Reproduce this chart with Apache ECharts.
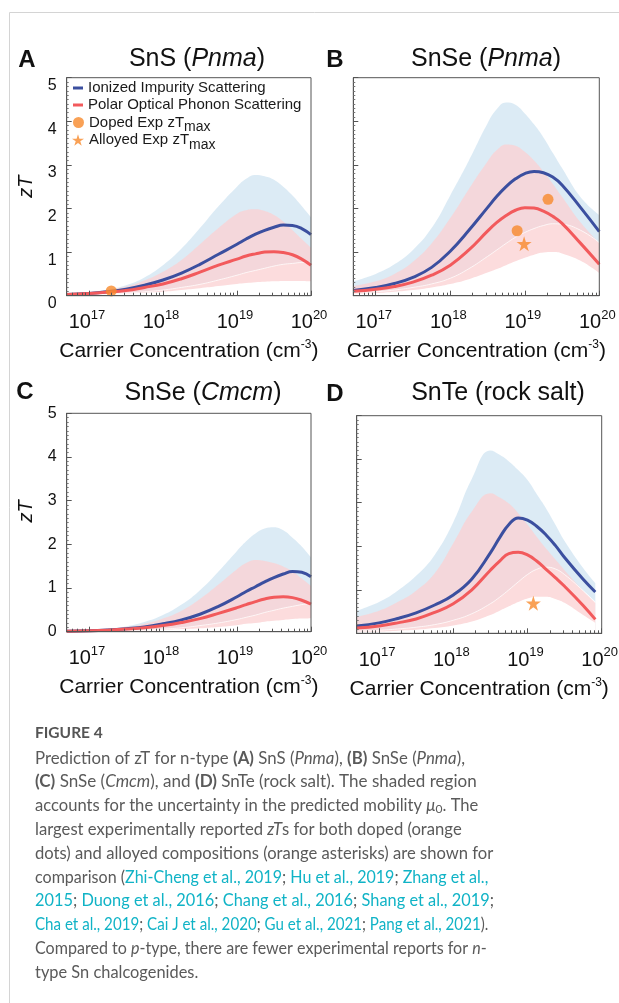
<!DOCTYPE html>
<html>
<head>
<meta charset="utf-8">
<title>Figure 4 - zT of n-type Sn chalcogenides</title>
<script src="https://cdn.jsdelivr.net/npm/echarts@6/dist/echarts.min.js"></script>
<style>
  html, body { margin: 0; padding: 0; background: #fff; }
  #chart { width: 619px; height: 1003px; }
</style>
</head>
<body>
<div id="chart"></div>
<script>
// carrier concentration grids (cm^-3)
const concAC = [5e16, 1e17, 1.78e17, 3.16e17, 5.62e17, 1e18, 1.78e18, 3.16e18, 5.62e18, 1e19, 1.33e19, 1.78e19, 2.37e19, 3.16e19, 4.22e19, 5.62e19, 7.5e19, 1e20]
const concB = [5e16, 1e17, 1.78e17, 3.16e17, 5.62e17, 1e18, 1.78e18, 3.16e18, 4.22e18, 5.62e18, 7.5e18, 1e19, 1.33e19, 1.78e19, 2.37e19, 3.16e19, 5.62e19, 1e20]
const concD = [5e16, 1e17, 1.78e17, 3.16e17, 5.62e17, 1e18, 1.78e18, 3.16e18, 4.22e18, 5.62e18, 7.5e18, 1e19, 1.33e19, 1.78e19, 2.37e19, 3.16e19, 5.62e19, 8.2e19]

// A  SnS (Pnma)
const snsII = [0.03, 0.05, 0.09, 0.15, 0.24, 0.36, 0.52, 0.72, 0.95, 1.18, 1.30, 1.41, 1.50, 1.57, 1.62, 1.61, 1.54, 1.40]
const snsIIHi = [0.05, 0.08, 0.14, 0.24, 0.42, 0.70, 1.08, 1.55, 2.05, 2.50, 2.68, 2.77, 2.74, 2.66, 2.50, 2.30, 2.06, 1.80]
const snsIILo = [0.02, 0.03, 0.04, 0.06, 0.09, 0.13, 0.19, 0.26, 0.36, 0.47, 0.53, 0.58, 0.63, 0.68, 0.72, 0.74, 0.76, 0.76]
const snsPOP = [0.03, 0.05, 0.08, 0.12, 0.19, 0.27, 0.39, 0.54, 0.70, 0.84, 0.91, 0.96, 1.00, 1.01, 0.99, 0.94, 0.84, 0.70]
const snsPOPHi = [0.05, 0.08, 0.13, 0.21, 0.35, 0.55, 0.82, 1.18, 1.55, 1.88, 1.96, 1.98, 1.94, 1.85, 1.70, 1.50, 1.30, 1.10]
const snsPOPLo = [0.02, 0.03, 0.035, 0.05, 0.07, 0.09, 0.13, 0.17, 0.22, 0.27, 0.29, 0.31, 0.32, 0.33, 0.34, 0.34, 0.34, 0.33]
const snsDoped = [[2e17, 0.11]]

// B  SnSe (Pnma)
const snseII = [0.12, 0.19, 0.28, 0.42, 0.65, 1.02, 1.50, 2.02, 2.28, 2.50, 2.68, 2.80, 2.85, 2.82, 2.72, 2.54, 2.02, 1.47]
const snseIIHi = [0.33, 0.50, 0.72, 1.05, 1.55, 2.30, 3.10, 3.95, 4.28, 4.43, 4.38, 4.18, 3.93, 3.63, 3.28, 2.93, 2.26, 1.85]
const snseIILo = [0.06, 0.09, 0.13, 0.19, 0.27, 0.40, 0.62, 0.90, 1.05, 1.20, 1.34, 1.45, 1.54, 1.61, 1.65, 1.64, 1.50, 1.22]
const snsePOP = [0.10, 0.15, 0.21, 0.31, 0.47, 0.70, 1.05, 1.48, 1.68, 1.84, 1.96, 2.02, 2.01, 1.94, 1.82, 1.66, 1.20, 0.72]
const snsePOPHi = [0.22, 0.33, 0.50, 0.78, 1.20, 1.78, 2.45, 3.08, 3.34, 3.47, 3.44, 3.30, 3.10, 2.85, 2.57, 2.27, 1.68, 1.21]
const snsePOPLo = [0.04, 0.06, 0.09, 0.13, 0.19, 0.27, 0.38, 0.53, 0.61, 0.70, 0.79, 0.87, 0.94, 0.99, 1.00, 0.97, 0.80, 0.52]
const snseDoped = [[7.9e18, 1.49], [2.05e19, 2.21]]
const snseAlloyed = [[9.8e18, 1.19]]

// C  SnSe (Cmcm)
const cmcmII = [0.01, 0.02, 0.04, 0.07, 0.11, 0.18, 0.27, 0.40, 0.58, 0.80, 0.92, 1.03, 1.14, 1.24, 1.32, 1.38, 1.36, 1.26]
const cmcmIIHi = [0.02, 0.04, 0.07, 0.12, 0.22, 0.38, 0.62, 0.95, 1.38, 1.85, 2.07, 2.25, 2.36, 2.39, 2.32, 2.15, 1.95, 1.70]
const cmcmIILo = [0.00, 0.01, 0.015, 0.025, 0.04, 0.06, 0.09, 0.14, 0.20, 0.28, 0.33, 0.38, 0.44, 0.49, 0.54, 0.58, 0.62, 0.65]
const cmcmPOP = [0.01, 0.02, 0.035, 0.06, 0.09, 0.14, 0.21, 0.30, 0.42, 0.55, 0.62, 0.69, 0.75, 0.79, 0.80, 0.78, 0.72, 0.63]
const cmcmPOPHi = [0.02, 0.04, 0.06, 0.10, 0.18, 0.30, 0.48, 0.75, 1.08, 1.43, 1.57, 1.64, 1.62, 1.57, 1.49, 1.38, 1.22, 1.05]
const cmcmPOPLo = [0.00, 0.01, 0.012, 0.02, 0.03, 0.04, 0.06, 0.08, 0.11, 0.15, 0.18, 0.20, 0.23, 0.25, 0.27, 0.29, 0.30, 0.31]

// D  SnTe (rock salt)
const snteII = [0.17, 0.24, 0.34, 0.47, 0.65, 0.88, 1.25, 1.85, 2.20, 2.50, 2.65, 2.60, 2.46, 2.26, 2.02, 1.74, 1.24, 0.95]
const snteIIHi = [0.52, 0.72, 0.98, 1.32, 1.80, 2.55, 3.55, 4.20, 4.10, 3.95, 3.75, 3.52, 3.20, 2.87, 2.50, 2.12, 1.50, 1.15]
const snteIILo = [0.05, 0.07, 0.10, 0.14, 0.20, 0.30, 0.45, 0.68, 0.83, 1.00, 1.18, 1.35, 1.47, 1.52, 1.48, 1.35, 0.98, 0.72]
const sntePOP = [0.12, 0.17, 0.24, 0.33, 0.48, 0.68, 1.00, 1.45, 1.66, 1.83, 1.86, 1.80, 1.66, 1.47, 1.28, 1.08, 0.64, 0.32]
const sntePOPHi = [0.38, 0.52, 0.72, 0.98, 1.38, 2.07, 2.80, 3.22, 3.12, 2.98, 2.76, 2.50, 2.22, 1.95, 1.70, 1.45, 0.98, 0.70]
const sntePOPLo = [0.03, 0.04, 0.06, 0.08, 0.12, 0.18, 0.27, 0.42, 0.52, 0.62, 0.72, 0.80, 0.84, 0.84, 0.79, 0.70, 0.42, 0.24]
const snteAlloyed = [[1.2e19, 0.69]]

// axis ticks
const xTickValues = [1e17, 1e18, 1e19, 1e20]
const xTickExp = ['17', '18', '19', '20']
const yTickValues = [0, 1, 2, 3, 4, 5]

const blueLine = '#3b4f9f'
const redLine = '#f25a5c'
const orange = '#f7892c'
const blueBand = 'rgba(214,232,243,0.85)'
const pinkBand = 'rgba(251,209,210,0.76)'
const font = 'Liberation Sans'
const starPath = 'path://M50,0 L61.2,34.5 L97.6,34.5 L68.2,55.9 L79.4,90.5 L50,69.1 L20.6,90.5 L31.8,55.9 L2.4,34.5 L38.8,34.5 Z'

const panels = [
  { letter: 'A', title: 'SnS ({i|Pnma})', titlePos: [197, 59], letterPos: [27, 60],
    grid: { left: 66.7, top: 77.7, width: 244.3, height: 218 },
    x: concAC, ii: snsII, iiHi: snsIIHi, iiLo: snsIILo, pop: snsPOP, popHi: snsPOPHi, popLo: snsPOPLo,
    doped: snsDoped, alloyed: null, yLabels: true, labelAlign: 'top', namePad: 0 },
  { letter: 'B', title: 'SnSe ({i|Pnma})', titlePos: [486, 59], letterPos: [335, 60],
    grid: { left: 353.3, top: 77.7, width: 246, height: 218 },
    x: concB, ii: snseII, iiHi: snseIIHi, iiLo: snseIILo, pop: snsePOP, popHi: snsePOPHi, popLo: snsePOPLo,
    doped: snseDoped, alloyed: snseAlloyed, yLabels: false },
  { letter: 'C', title: 'SnSe ({i|Cmcm})', titlePos: [203, 393], letterPos: [25, 392],
    grid: { left: 66.7, top: 413.3, width: 244.3, height: 218.4 },
    x: concAC, ii: cmcmII, iiHi: cmcmIIHi, iiLo: cmcmIILo, pop: cmcmPOP, popHi: cmcmPOPHi, popLo: cmcmPOPLo,
    doped: null, alloyed: null, yLabels: true, labelAlign: 'middle', namePad: 22 },
  { letter: 'D', title: 'SnTe (rock salt)', titlePos: [498, 393], letterPos: [335, 394],
    grid: { left: 356.7, top: 415.7, width: 245, height: 217.6 },
    x: concD, ii: snteII, iiHi: snteIIHi, iiLo: snteIILo, pop: sntePOP, popHi: sntePOPHi, popLo: sntePOPLo,
    doped: null, alloyed: snteAlloyed, yLabels: false }
]

// minor ticks of the log axis: 2..9 in every decade
const xMinorTicks = []
for (let d = 16; d < 20; d++) {
  for (let m = 2; m <= 9; m++) {
    const v = m * Math.pow(10, d)
    if (v > 5e16 && v < 1e20) xMinorTicks.push(v)
  }
}

function pts(xs, ys) {
  return xs.map(function (x, k) { return [x, ys[k]] })
}

const grids = []
const xAxes = []
const yAxes = []
const series = []
const graphics = []

function areaLine(name, i, data, fill) {
  return {
    type: 'line', name: name, xAxisIndex: i, yAxisIndex: i,
    data: data, smooth: 0.45, symbol: 'none', silent: true, z: 1,
    lineStyle: { width: 0, opacity: 0 },
    areaStyle: { color: fill, opacity: 1 }
  }
}

panels.forEach(function (p, i) {
  grids.push(Object.assign({
    show: true,
    z: 10,
    borderColor: '#555',
    borderWidth: 1,
    backgroundColor: 'transparent',
    outerBoundsMode: 'none',
    containLabel: false
  }, p.grid))

  xAxes[i] = {
    type: 'log',
    logBase: 10,
    gridIndex: i,
    position: 'bottom',
    z: 10,
    min: 5e16,
    max: 1e20,
    axisLine: { show: true, onZero: false, lineStyle: { color: '#555', width: 1 } },
    axisTick: { show: true, inside: true, length: 5, customValues: xTickValues, lineStyle: { color: '#555' } },
    axisLabel: {
      show: true,
      customValues: xTickValues,
      margin: 13,
      padding: [0, 4, 0, 0],
      formatter: function (v) {
        let k = 0
        xTickValues.forEach(function (t, j) {
          if (Math.abs(Math.log10(t) - Math.log10(v)) < 0.01) k = j
        })
        return '{b|10}{e|' + xTickExp[k] + '}'
      },
      rich: {
        b: { fontFamily: font, fontSize: 20, lineHeight: 20, color: '#111', padding: [8, 0, 0, 0] },
        e: { fontFamily: font, fontSize: 13, lineHeight: 13, color: '#111', verticalAlign: 'top' }
      }
    },
    splitLine: { show: false },
    name: '{n|Carrier Concentration (cm}{s|-3}{n|)}',
    nameLocation: 'middle',
    nameGap: 43,
    nameTextStyle: {
      rich: {
        n: { fontFamily: font, fontSize: 21, lineHeight: 21, color: '#111', padding: [5, 0, 0, 0] },
        s: { fontFamily: font, fontSize: 12, lineHeight: 12, color: '#111', verticalAlign: 'top' }
      }
    }
  }
  // second axis only for the small log ticks
  xAxes[4 + i] = {
    type: 'log',
    logBase: 10,
    gridIndex: i,
    position: 'bottom',
    z: 10,
    min: 5e16,
    max: 1e20,
    axisLine: { show: false },
    axisTick: { show: true, inside: true, length: 3, customValues: xMinorTicks, lineStyle: { color: '#555' } },
    axisLabel: { show: false },
    splitLine: { show: false }
  }

  yAxes[i] = {
    type: 'value',
    gridIndex: i,
    z: 10,
    min: 0,
    max: 5,
    interval: 1,
    axisLine: { show: true, lineStyle: { color: '#555', width: 1 } },
    axisTick: { show: true, inside: true, length: 5, lineStyle: { color: '#555' } },
    minorTick: { show: true, splitNumber: 10, length: 2, lineStyle: { color: '#777' } },
    splitLine: { show: false },
    minorSplitLine: { show: false },
    axisLabel: {
      show: p.yLabels,
      customValues: yTickValues,
      margin: 10,
      fontFamily: font,
      fontSize: 16,
      color: '#111',
      verticalAlign: p.labelAlign || 'middle'
    },
    name: p.yLabels ? 'zT' : '',
    nameLocation: 'middle',
    nameGap: 30,
    nameTextStyle: {
      fontFamily: font,
      fontSize: 20,
      fontStyle: 'italic',
      color: '#111',
      padding: [0, 0, 0, p.namePad || 0]
    }
  }

  const k = p.letter
  // uncertainty bands: fill up to the upper bound, then wipe below the lower bound
  series.push(areaLine('ii-hi-' + k, i, pts(p.x, p.iiHi), blueBand))
  series.push(areaLine('ii-lo-' + k, i, pts(p.x, p.iiLo), '#ffffff'))
  series.push(areaLine('pop-hi-' + k, i, pts(p.x, p.popHi), pinkBand))
  series.push(areaLine('pop-lo-' + k, i, pts(p.x, p.popLo), '#ffffff'))
  // faint white edge of the impurity band
  series.push({
    type: 'line', name: 'ii-edge-' + k, xAxisIndex: i, yAxisIndex: i,
    data: pts(p.x, p.iiLo), smooth: 0.45, symbol: 'none', silent: true, z: 2,
    lineStyle: { color: '#ffffff', width: 1, opacity: 0.75 }
  })
  series.push({
    type: 'line', name: 'Ionized Impurity Scattering', xAxisIndex: i, yAxisIndex: i,
    data: pts(p.x, p.ii), smooth: 0.45, symbol: 'none', z: 3,
    itemStyle: { color: blueLine },
    lineStyle: { color: blueLine, width: 3 }
  })
  series.push({
    type: 'line', name: 'Polar Optical Phonon Scattering', xAxisIndex: i, yAxisIndex: i,
    data: pts(p.x, p.pop), smooth: 0.45, symbol: 'none', z: 3,
    itemStyle: { color: redLine },
    lineStyle: { color: redLine, width: 3 }
  })
  if (p.doped) {
    series.push({
      type: 'scatter', name: 'Doped Exp zTmax', xAxisIndex: i, yAxisIndex: i,
      data: p.doped, symbol: 'circle', symbolSize: 11, z: 4,
      itemStyle: { color: orange }
    })
  }
  if (p.alloyed) {
    series.push({
      type: 'scatter', name: 'Alloyed Exp zTmax', xAxisIndex: i, yAxisIndex: i,
      data: p.alloyed, symbol: starPath, symbolSize: 15, z: 4,
      itemStyle: { color: orange }
    })
  }

  graphics.push({
    type: 'text', x: p.letterPos[0], y: p.letterPos[1],
    style: { text: p.letter, fontFamily: font, fontSize: 24, fontWeight: 'bold', fill: '#111', align: 'center', verticalAlign: 'middle' }
  })
  graphics.push({
    type: 'text', x: p.titlePos[0], y: p.titlePos[1],
    style: {
      text: p.title, fontFamily: font, fontSize: 25, fill: '#111', align: 'center', verticalAlign: 'middle',
      rich: { i: { fontFamily: font, fontSize: 25, fontStyle: 'italic', fill: '#111' } }
    }
  })
})

// page frame
graphics.push({ type: 'line', shape: { x1: 9.5, y1: 12.5, x2: 619, y2: 12.5 }, style: { stroke: '#d4d4d4', lineWidth: 1 } })
graphics.push({ type: 'line', shape: { x1: 9.5, y1: 12.5, x2: 9.5, y2: 1003 }, style: { stroke: '#d4d4d4', lineWidth: 1 } })

// caption, one entry per printed line
const captionLines = [
  [['', 'Prediction of zT for n-type '], ['b', '(A)'], ['', ' SnS ('], ['i', 'Pnma'], ['', '), '], ['b', '(B)'], ['', ' SnSe ('], ['i', 'Pnma'], ['', '),']],
  [['b', '(C)'], ['', ' SnSe ('], ['i', 'Cmcm'], ['', '), and '], ['b', '(D)'], ['', ' SnTe (rock salt). The shaded region']],
  [['', 'accounts for the uncertainty in the predicted mobility '], ['i', 'μ'], ['s', '0'], ['', '. The']],
  [['', 'largest experimentally reported '], ['i', 'zT'], ['', 's for both doped (orange']],
  [['', 'dots) and alloyed compositions (orange asterisks) are shown for']],
  [['', 'comparison ('], ['c', 'Zhi-Cheng et al., 2019'], ['', '; '], ['c', 'Hu et al., 2019'], ['', '; '], ['c', 'Zhang et al.,']],
  [['c', '2015'], ['', '; '], ['c', 'Duong et al., 2016'], ['', '; '], ['c', 'Chang et al., 2016'], ['', '; '], ['c', 'Shang et al., 2019'], ['', ';']],
  [['c', 'Cha et al., 2019'], ['', '; '], ['c', 'Cai J et al., 2020'], ['', '; '], ['c', 'Gu et al., 2021'], ['', '; '], ['c', 'Pang et al., 2021'], ['', ').']],
  [['', 'Compared to '], ['i', 'p'], ['', '-type, there are fewer experimental reports for '], ['i', 'n'], ['', '-']],
  [['', 'type Sn chalcogenides.']]
]
// right end of each printed line in the page
const captionRight = [465, 476.7, 478.3, 461.7, 493.3, 488.3, 494, 488.3, 486.7, 198.3]
const capLeft = 35
const capFont = 'Lato'
const capSize = 16.5
const capColor = '#5a5a5a'
const capRich = {
  b: { fontFamily: capFont, fontSize: capSize, fontWeight: 'bold', fill: capColor },
  i: { fontFamily: capFont, fontSize: capSize, fontStyle: 'italic', fill: capColor },
  c: { fontFamily: capFont, fontSize: capSize, fill: '#10b3c6' },
  s: { fontFamily: capFont, fontSize: 12, lineHeight: 12, padding: [7, 0, 0, 0], fill: capColor }
}
const capCss = {
  '': capSize + 'px ' + capFont,
  b: 'bold ' + capSize + 'px ' + capFont,
  i: 'italic ' + capSize + 'px ' + capFont,
  c: capSize + 'px ' + capFont,
  s: '12px ' + capFont
}
const measureCtx = document.createElement('canvas').getContext('2d')
function lineWidth(parts) {
  let w = 0
  parts.forEach(function (pt) {
    measureCtx.font = capCss[pt[0]]
    w += measureCtx.measureText(pt[1]).width
  })
  return w
}

graphics.push({
  type: 'text', x: capLeft, y: 733,
  style: { text: 'FIGURE 4', fontFamily: capFont, fontSize: 15.5, fontWeight: 'bold', fill: '#555', align: 'left', verticalAlign: 'middle' }
})
captionLines.forEach(function (parts, j) {
  const txt = parts.map(function (pt) {
    return pt[0] ? '{' + pt[0] + '|' + pt[1] + '}' : pt[1]
  }).join('')
  const w = lineWidth(parts)
  const sx = w > 0 ? (captionRight[j] - capLeft) / w : 1
  graphics.push({
    type: 'text', x: capLeft, y: 758.3 + j * 23.8, scaleX: sx,
    style: { text: txt, fontFamily: capFont, fontSize: capSize, fill: capColor, align: 'left', verticalAlign: 'middle', rich: capRich }
  })
})

const legendText = { fontFamily: font, fontSize: 15, color: '#1a1a1a' }
const subRich = {
  m: { fontFamily: font, fontSize: 15, lineHeight: 15, color: '#1a1a1a' },
  s: { fontFamily: font, fontSize: 14, lineHeight: 15, color: '#1a1a1a', padding: [10, 0, 0, 0] }
}

const option = {
  animation: false,
  backgroundColor: '#fff',
  textStyle: { fontFamily: font },
  grid: grids,
  xAxis: xAxes,
  yAxis: yAxes,
  legend: [
    { data: [{ name: 'Ionized Impurity Scattering', icon: 'rect' }], left: 73, top: 80.5, padding: 0,
      itemWidth: 10, itemHeight: 3, selectedMode: false, textStyle: legendText },
    { data: [{ name: 'Polar Optical Phonon Scattering', icon: 'rect' }], left: 73, top: 97.5, padding: 0,
      itemWidth: 10, itemHeight: 3, selectedMode: false, textStyle: legendText },
    { data: [{ name: 'Doped Exp zTmax', icon: 'circle' }], left: 73, top: 110.5, padding: 0,
      itemWidth: 11, itemHeight: 11, selectedMode: false,
      formatter: function () { return '{m|Doped Exp zT}{s|max}' },
      textStyle: Object.assign({ rich: subRich }, legendText) },
    { data: [{ name: 'Alloyed Exp zTmax', icon: starPath }], left: 72, top: 128, padding: 0,
      itemWidth: 12, itemHeight: 12, selectedMode: false,
      formatter: function () { return '{m|Alloyed Exp zT}{s|max}' },
      textStyle: Object.assign({ rich: subRich }, legendText) }
  ],
  graphic: graphics,
  series: series
}

const chart = echarts.init(document.getElementById('chart'))
chart.setOption(option)
window.addEventListener('resize', function () {
  chart.resize()
})
</script>
</body>
</html>
